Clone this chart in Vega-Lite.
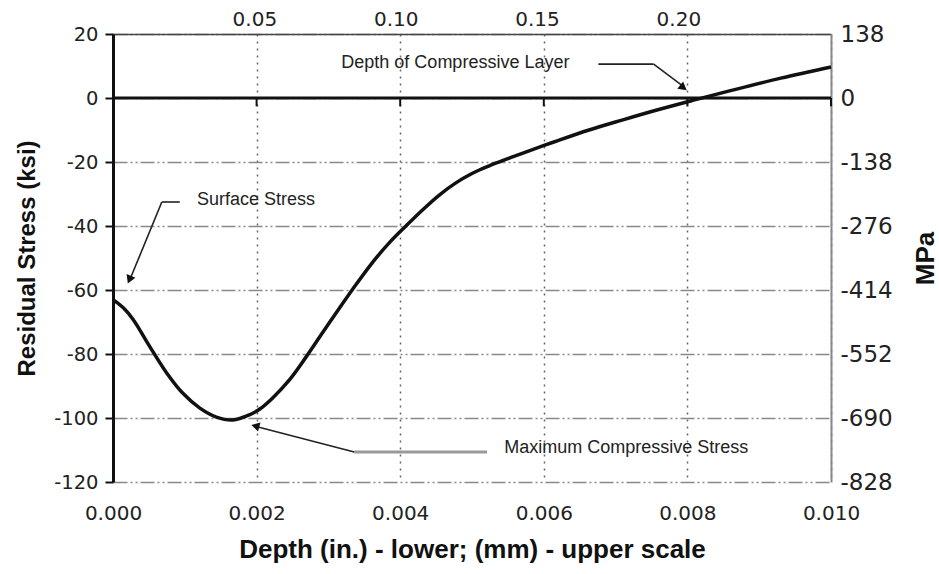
{
  "$schema": "https://vega.github.io/schema/vega-lite/v6.json",
  "autosize": "none",
  "width": 718,
  "height": 448,
  "padding": {"left": 113, "top": 34, "right": 108, "bottom": 92},
  "background": "white",
  "config": {
    "font": "Liberation Sans",
    "view": {"stroke": null},
    "axis": {"labelColor": "#222", "titleColor": "#111", "labelFont": "DejaVu Sans", "titleFont": "Liberation Sans", "labelFlush": false, "labelOverlap": false}
  },
  "datasets": {
    "curve": [
      {"x": 0, "y": -63},
      {"x": 0.00014, "y": -65.5},
      {"x": 0.00028, "y": -69.2},
      {"x": 0.00051, "y": -77.6},
      {"x": 0.00075, "y": -86},
      {"x": 0.00097, "y": -92.2},
      {"x": 0.00121, "y": -96.9},
      {"x": 0.00144, "y": -99.7},
      {"x": 0.00167, "y": -100.6},
      {"x": 0.0019, "y": -99},
      {"x": 0.00205, "y": -97.1},
      {"x": 0.00222, "y": -93.8},
      {"x": 0.00246, "y": -88},
      {"x": 0.00269, "y": -80.9},
      {"x": 0.00292, "y": -73.3},
      {"x": 0.00315, "y": -65.8},
      {"x": 0.00334, "y": -59.7},
      {"x": 0.00361, "y": -51.5},
      {"x": 0.00385, "y": -45.2},
      {"x": 0.00408, "y": -40},
      {"x": 0.00431, "y": -35},
      {"x": 0.00454, "y": -30.4},
      {"x": 0.00477, "y": -26.6},
      {"x": 0.005, "y": -23.6},
      {"x": 0.00524, "y": -21.2},
      {"x": 0.00547, "y": -19.2},
      {"x": 0.0057, "y": -17.3},
      {"x": 0.00616, "y": -13.6},
      {"x": 0.00663, "y": -10},
      {"x": 0.00709, "y": -6.9},
      {"x": 0.0076, "y": -3.6},
      {"x": 0.0081, "y": -0.6},
      {"x": 0.0086, "y": 2.3},
      {"x": 0.0093, "y": 6.2},
      {"x": 0.01, "y": 9.7}
    ],
    "segments": [
      {"x": 0.00093, "y": -32.5, "x2": 0.00068, "y2": -32.5, "tone": "dark"},
      {"x": 0.00068, "y": -32.5, "x2": 0.00024, "y2": -56.5, "tone": "dark"},
      {"x": 0.00521, "y": -110.6, "x2": 0.00336, "y2": -110.6, "tone": "gray"},
      {"x": 0.00336, "y": -110.6, "x2": 0.00198, "y2": -102.6, "tone": "dark"},
      {"x": 0.00676, "y": 10.6, "x2": 0.00753, "y2": 10.6, "tone": "dark"},
      {"x": 0.00753, "y": 10.6, "x2": 0.00792, "y2": 4, "tone": "dark"}
    ],
    "notes": [
      {"x": 0.00117, "y": -31.9, "label": "Surface Stress"},
      {"x": 0.00545, "y": -109.4, "label": "Maximum Compressive Stress"},
      {"x": 0.00318, "y": 10.9, "label": "Depth of Compressive Layer"}
    ],
    "zeroTicks": [
      {"x": 0.002}, {"x": 0.004}, {"x": 0.006}, {"x": 0.008}, {"x": 0.01}
    ],
    "alt": [
      {"mm": 0, "mpa": -828},
      {"mm": 0.254, "mpa": 138}
    ]
  },
  "layer": [
    {
      "layer": [
        {
          "data": {"name": "curve"},
          "mark": {"type": "line", "color": "#111", "strokeWidth": 3.5, "interpolate": "catmull-rom"},
          "encoding": {
            "x": {
              "field": "x", "type": "quantitative",
              "scale": {"domain": [0, 0.01], "nice": false, "zero": false},
              "axis": {
                "orient": "bottom",
                "title": "Depth (in.) - lower; (mm) - upper scale",
                "values": [0, 0.002, 0.004, 0.006, 0.008, 0.01],
                "format": ".3f",
                "grid": true, "gridDash": [2, 5], "gridColor": "#666", "gridWidth": 1.5,
                "domain": false, "ticks": false,
                "labelFontSize": 20, "labelPadding": 21,
                "titleFontSize": 26, "titleFontWeight": "bold", "titlePadding": 13
              }
            },
            "y": {
              "field": "y", "type": "quantitative",
              "scale": {"domain": [-120, 20], "nice": false, "zero": false},
              "axis": {
                "orient": "left",
                "title": "Residual Stress (ksi)",
                "values": [-120, -100, -80, -60, -40, -20, 0, 20],
                "labelExpr": "replace(datum.label, '\u2212', '-')",
                "grid": true, "gridDash": [14, 3, 2, 3, 2, 3], "gridColor": "#888", "gridWidth": 1.5,
                "domain": true, "domainColor": "#111", "domainWidth": 3,
                "ticks": true, "tickSize": 8, "tickWidth": 2, "tickColor": "#111",
                "labelFontSize": 19.5, "labelPadding": 7,
                "titleFontSize": 24, "titleFontWeight": "bold", "titlePadding": 14
              }
            }
          }
        },
        {
          "data": {"values": [{}]},
          "mark": {"type": "rule", "color": "#111", "strokeWidth": 3},
          "encoding": {"y": {"datum": 0}}
        },
        {
          "data": {"name": "zeroTicks"},
          "mark": {"type": "rule", "color": "#111", "strokeWidth": 2},
          "encoding": {
            "x": {"field": "x", "type": "quantitative"},
            "y": {"datum": 0},
            "y2": {"datum": -2.6}
          }
        },
        {
          "data": {"name": "segments"},
          "transform": [{"filter": "datum.tone == 'gray'"}],
          "mark": {"type": "rule", "color": "#999", "strokeWidth": 3},
          "encoding": {
            "x": {"field": "x", "type": "quantitative"},
            "y": {"field": "y", "type": "quantitative"},
            "x2": {"field": "x2"},
            "y2": {"field": "y2"}
          }
        },
        {
          "data": {"name": "segments"},
          "transform": [{"filter": "datum.tone == 'dark'"}],
          "mark": {"type": "rule", "color": "#222", "strokeWidth": 1.6},
          "encoding": {
            "x": {"field": "x", "type": "quantitative"},
            "y": {"field": "y", "type": "quantitative"},
            "x2": {"field": "x2"},
            "y2": {"field": "y2"}
          }
        },
        {
          "data": {"values": [{"x": 0.000236, "y": -56.4}]},
          "mark": {"type": "point", "shape": "triangle", "filled": true, "color": "#111", "size": 90, "angle": 203, "opacity": 1},
          "encoding": {
            "x": {"field": "x", "type": "quantitative"},
            "y": {"field": "y", "type": "quantitative"}
          }
        },
        {
          "data": {"values": [{"x": 0.002, "y": -102.6}]},
          "mark": {"type": "point", "shape": "triangle", "filled": true, "color": "#111", "size": 90, "angle": 285, "opacity": 1},
          "encoding": {
            "x": {"field": "x", "type": "quantitative"},
            "y": {"field": "y", "type": "quantitative"}
          }
        },
        {
          "data": {"values": [{"x": 0.00793, "y": 3.5}]},
          "mark": {"type": "point", "shape": "triangle", "filled": true, "color": "#111", "size": 90, "angle": 128, "opacity": 1},
          "encoding": {
            "x": {"field": "x", "type": "quantitative"},
            "y": {"field": "y", "type": "quantitative"}
          }
        },
        {
          "data": {"name": "notes"},
          "mark": {"type": "text", "align": "left", "baseline": "middle", "fontSize": 18, "color": "#222", "font": "Liberation Sans"},
          "encoding": {
            "x": {"field": "x", "type": "quantitative"},
            "y": {"field": "y", "type": "quantitative"},
            "text": {"field": "label"}
          }
        }
      ]
    },
    {
      "data": {"name": "alt"},
      "mark": {"type": "point", "opacity": 0},
      "encoding": {
        "x": {
          "field": "mm", "type": "quantitative",
          "scale": {"domain": [0, 0.254], "nice": false, "zero": false},
          "axis": {
            "orient": "top", "title": null,
            "values": [0.05, 0.1, 0.15, 0.2], "format": ".2f",
            "grid": false, "ticks": false,
            "domain": true, "domainColor": "#444", "domainWidth": 1.5,
            "labelFontSize": 20, "labelPadding": 5
          }
        },
        "y": {
          "field": "mpa", "type": "quantitative",
          "scale": {"domain": [-828, 138], "nice": false, "zero": false},
          "axis": {
            "orient": "right", "title": "MPa",
            "values": [-828, -690, -552, -414, -276, -138, 0, 138],
            "labelExpr": "replace(datum.label, '\u2212', '-')",
            "grid": false, "ticks": false,
            "domain": true, "domainColor": "#888", "domainWidth": 2,
            "labelFontSize": 23, "labelPadding": 9,
            "titleFontSize": 26, "titleFontWeight": "bold", "titleAngle": 270, "titlePadding": 46
          }
        }
      }
    }
  ],
  "resolve": {"scale": {"x": "independent", "y": "independent"}}
}
